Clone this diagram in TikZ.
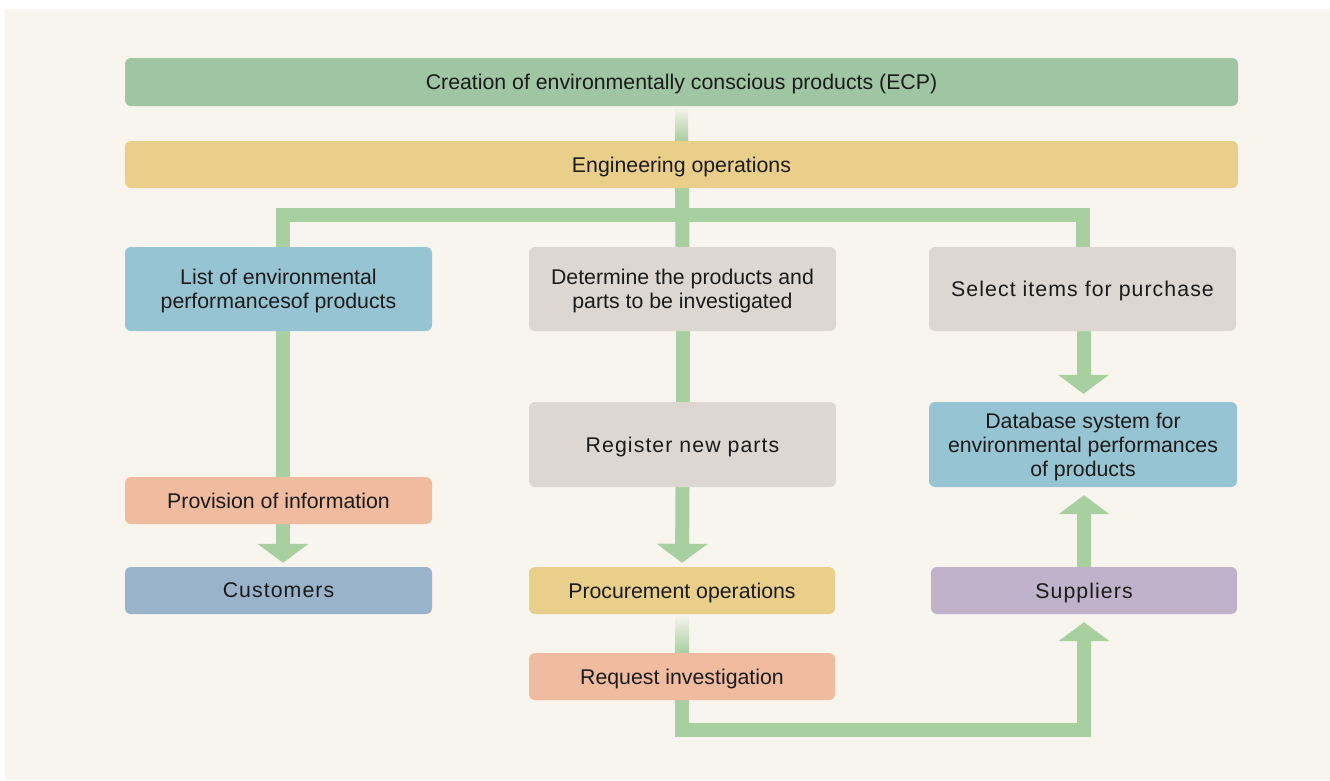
\documentclass[tikz,border=0pt]{standalone}
\usepackage{fontspec}
\setmainfont{Liberation Sans}
\usepackage{tikz}
\usetikzlibrary{arrows.meta,positioning}

\definecolor{cream}{HTML}{F8F5EF}
\definecolor{flowgreen}{HTML}{A7CF9F}
\definecolor{ecpgreen}{HTML}{9FC5A3}
\definecolor{engyellow}{HTML}{EACF8A}
\definecolor{infoblue}{HTML}{96C4D2}
\definecolor{taskgrey}{HTML}{DCD8D1}
\definecolor{salmon}{HTML}{F1BBA0}
\definecolor{custblue}{HTML}{99B3CB}
\definecolor{supppurple}{HTML}{C1B2CB}
\definecolor{inktext}{HTML}{1A1A1A}

\newcommand{\spacedtext}[1]{{\addfontfeature{LetterSpace=5}#1}}

\pgfdeclarelayer{bg}
\pgfdeclarelayer{conn}
\pgfsetlayers{bg,conn,main}

\begin{document}
\begin{tikzpicture}[x=1pt, y=-1pt,
  box/.style={rounded corners=6pt, minimum width=307pt, inner sep=0pt, align=center,
    text depth=0pt, text=inktext, font=\fontsize{21.3}{24}\selectfont},
  wide/.style={box, minimum width=1113pt, minimum height=47pt},
  small/.style={box, minimum height=47pt},
  tall/.style={box, minimum height=85pt},
  flow/.style={draw=flowgreen, line width=14pt},
  flowarrow/.style={flow, -{Triangle[width=50pt,length=19pt]}},
  fadedown/.style={top color=cream, bottom color=flowgreen, draw=none},
  fadeup/.style={top color=flowgreen, bottom color=cream, draw=none}
]

% background
\useasboundingbox (0,0) rectangle (1330,780);
\begin{pgfonlayer}{bg}
  \fill[cream] (5,9) rectangle (1330,780);
\end{pgfonlayer}

% --------- TOP BARS ----------
\node[wide, fill=ecpgreen, minimum height=48pt] (ecp) at (681.5,82) {Creation of environmentally conscious products (ECP)};
\node[wide, fill=engyellow] (eng) at (681.5,164.5) {Engineering operations};

% --------- LEFT COLUMN ----------
\node[tall, fill=infoblue, minimum height=84pt] (list) at (278.5,289) {List of environmental\\performancesof products};
\node[small, fill=salmon] (prov) at (278.5,500.5) {Provision of information};
\node[small, fill=custblue] (cust) at (278.5,590.5) {\spacedtext{Customers}};

% --------- MIDDLE COLUMN ----------
\node[tall, fill=taskgrey, minimum height=84pt] (det) at (682.5,289) {Determine the products and\\parts to be investigated};
\node[tall, fill=taskgrey] (reg) at (682.5,444.5) {\spacedtext{Register new parts}};
\node[small, fill=engyellow, minimum width=306pt] (proc) at (682,590.5) {Procurement operations};
\node[small, fill=salmon, minimum width=306pt] (req) at (682,676.5) {Request investigation};

% --------- RIGHT COLUMN ----------
\node[tall, fill=taskgrey, minimum height=84pt] (sel) at (1082.5,289) {\spacedtext{Select items for purchase}};
\node[tall, fill=infoblue, minimum width=308pt] (db) at (1083,444.5) {Database system for\\environmental performances\\of products};
\node[small, fill=supppurple, minimum width=306pt] (supp) at (1084,590.5) {\spacedtext{Suppliers}};

% --------- CONNECTORS ----------
\begin{pgfonlayer}{conn}
  % trunk
  \shade[fadedown] ([xshift=-6.5pt]ecp.south) rectangle ([xshift=6.5pt]eng.north);
  \draw[flow] (eng.north) -- (det.north);
  \draw[flow] ([xshift=4.5pt]list.north) -- ++(0,-32) -| (sel.north);

  % left
  \draw[flow] ([xshift=4.5pt]list.south) -- ([xshift=4.5pt]prov.north);
  \draw[flowarrow, shorten >=4pt] ([xshift=4.5pt]prov.south) -- ([xshift=4.5pt]cust.north);

  % middle
  \draw[flow] (det.south) -- (reg.north);
  \draw[flowarrow, shorten >=4pt] (reg.south) -- (proc.north);
  \shade[fadedown] ([xshift=-7pt]proc.south) rectangle ([xshift=7pt]req.north);
  \draw[flowarrow, shorten >=8pt] (req.south) -- ++(0,30) -| (supp.south);

  % right
  \draw[flowarrow, shorten >=8pt] ([xshift=1pt]sel.south) -- ([xshift=0.5pt]db.north);
  \shade[fadeup] ([xshift=-7pt]supp.north) rectangle ([xshift=7pt,yshift=-26pt]supp.north);
  \draw[flowarrow, shorten >=8pt] ([yshift=-25pt]supp.north) -- ([xshift=1pt]db.south);
\end{pgfonlayer}

\end{tikzpicture}
\end{document}
